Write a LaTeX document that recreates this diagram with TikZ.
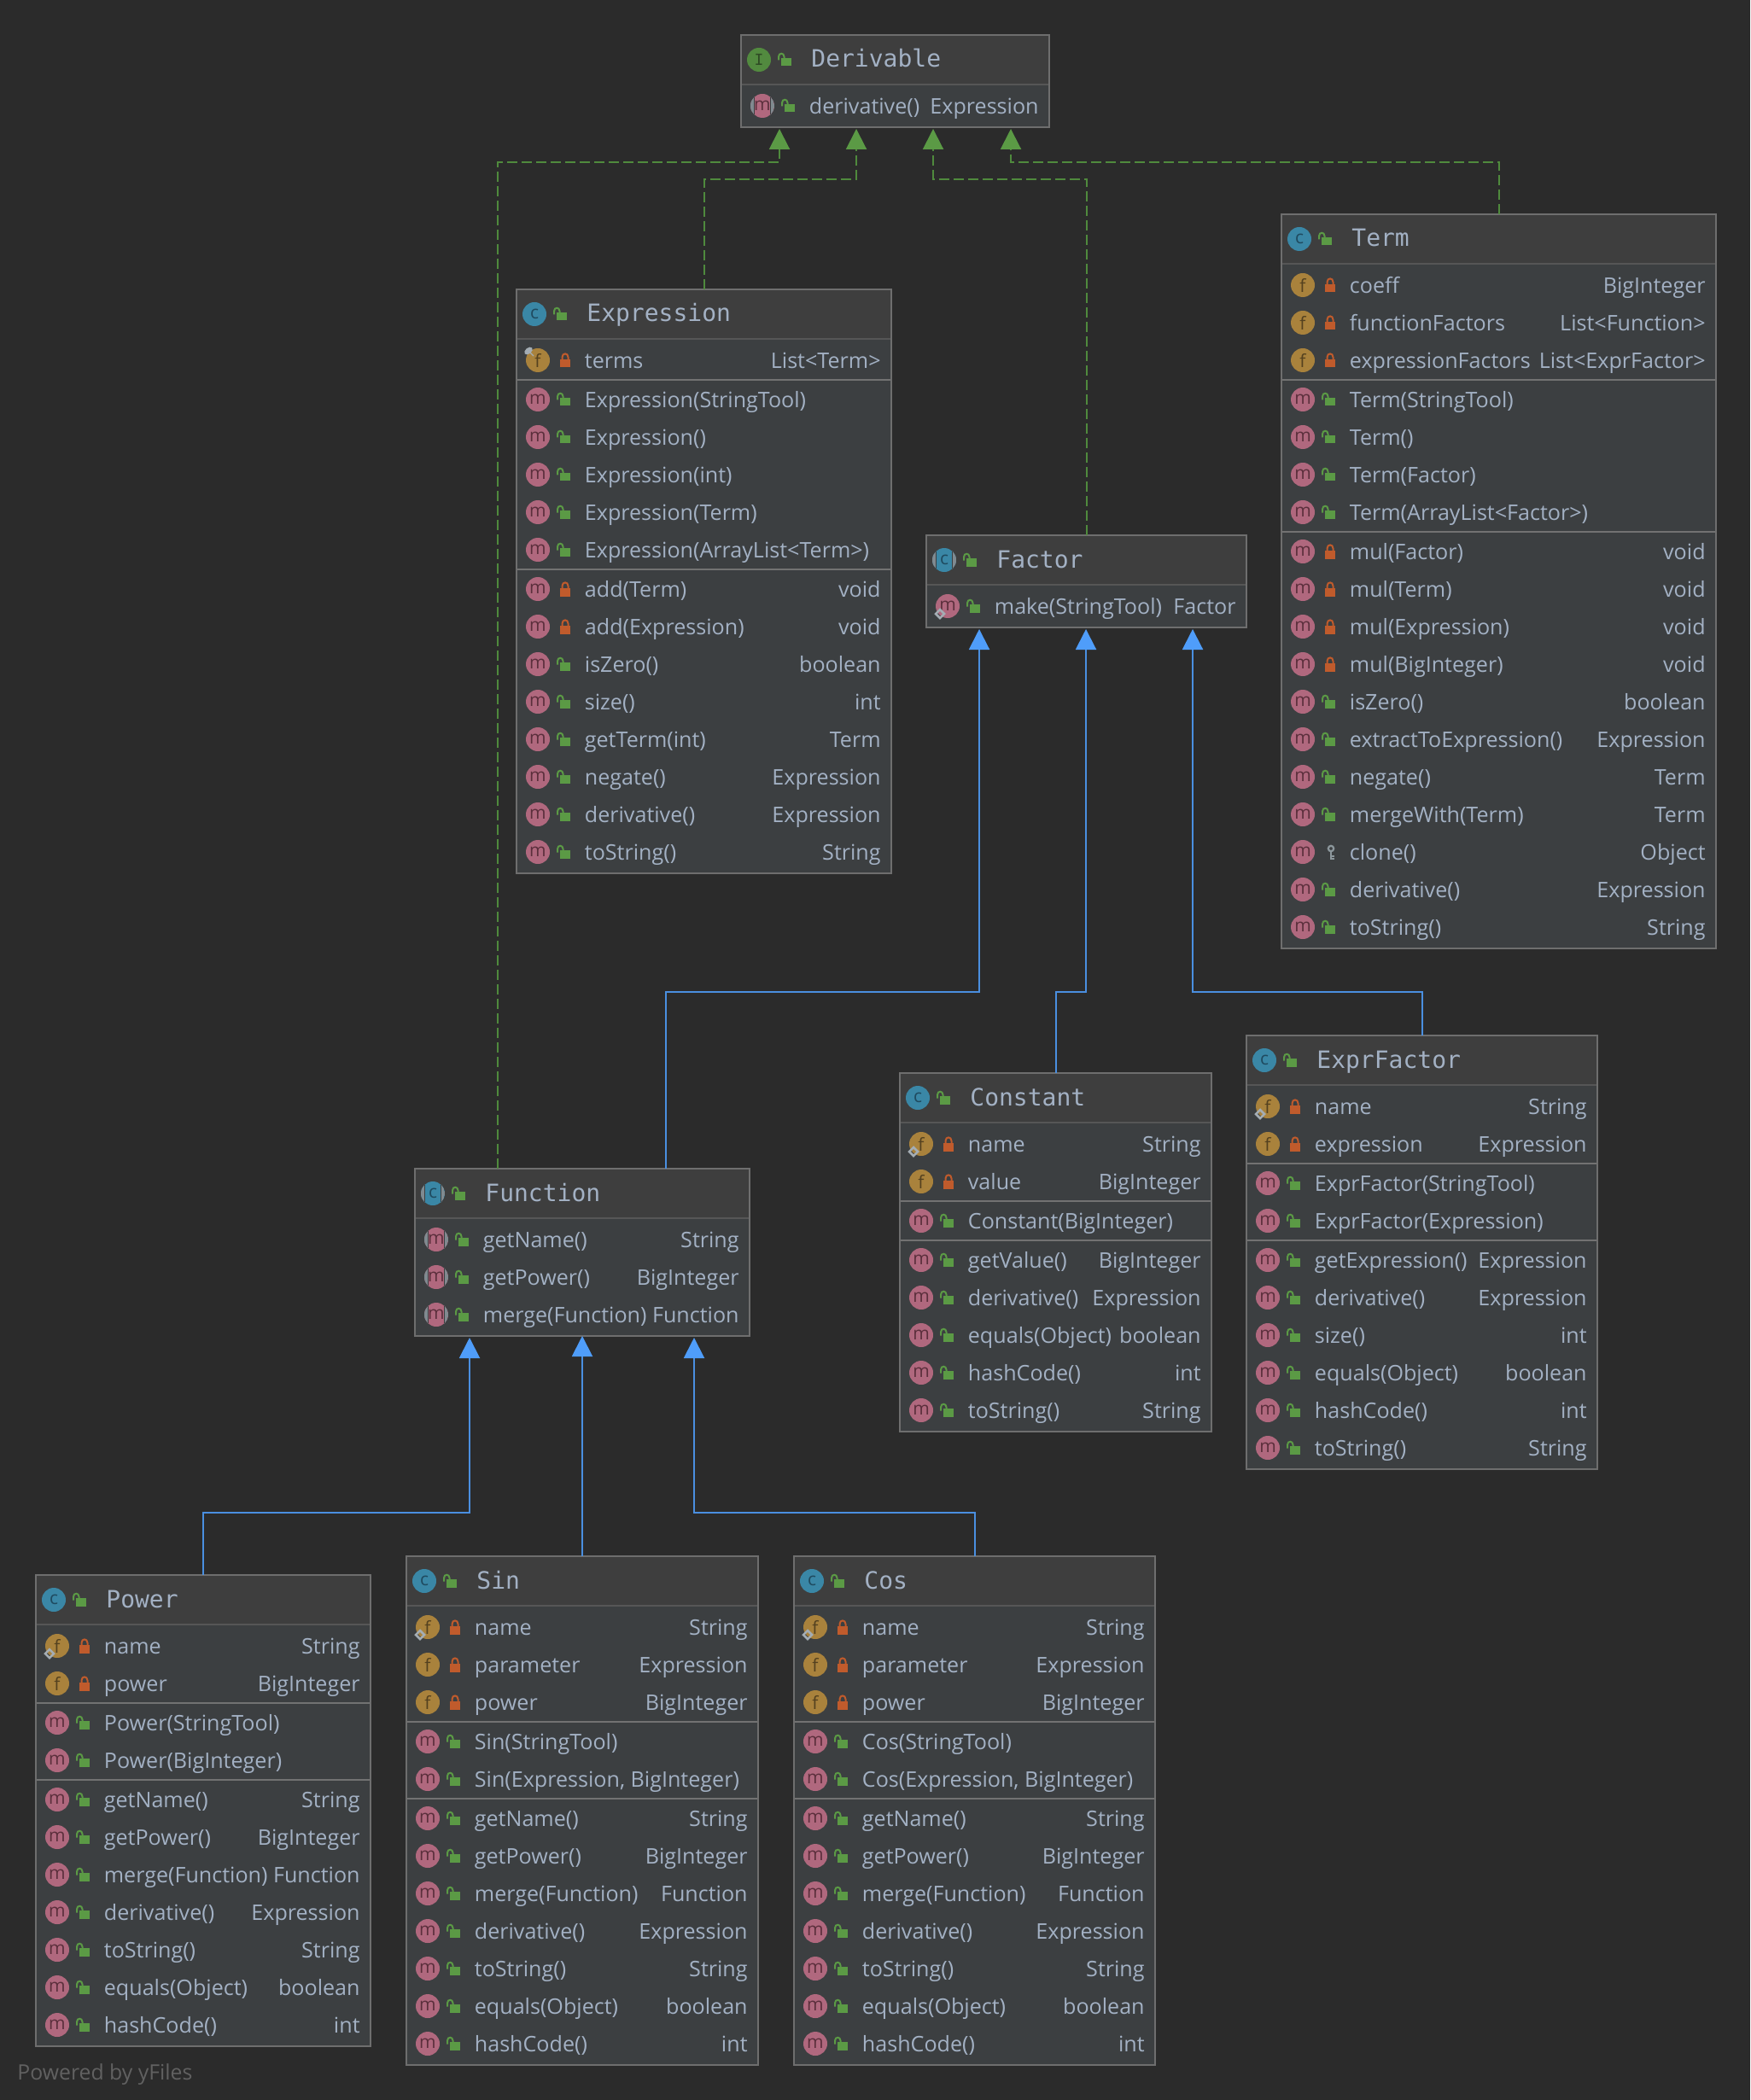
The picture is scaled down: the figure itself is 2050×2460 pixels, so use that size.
\documentclass[tikz,border=0pt]{standalone}
\usepackage{fontspec}
\setmainfont{Open Sans}[Ligatures=NoCommon]
\newfontfamily\titlefont{DejaVu Sans Mono}
\usetikzlibrary{arrows.meta,calc}
\definecolor{bgc}{HTML}{2B2B2B}
\definecolor{bodyc}{HTML}{3C3F41}
\definecolor{titlec}{HTML}{3E3E3E}
\definecolor{borderc}{HTML}{6E6E6E}
\definecolor{seponec}{HTML}{565656}
\definecolor{septwoc}{HTML}{727272}
\definecolor{txtc}{HTML}{A3B1C4}
\definecolor{greenc}{HTML}{5B9A45}
\definecolor{greenline}{HTML}{4F8A3D}
\definecolor{orangec}{HTML}{C05B2C}
\definecolor{bluec}{HTML}{4A8FE0}
\definecolor{bluetip}{HTML}{4F9DFA}
\definecolor{graymark}{HTML}{A4ADB4}
\definecolor{keyc}{HTML}{8C979C}
\definecolor{absgray}{HTML}{808A90}
\definecolor{clsc}{HTML}{3A87A6}\definecolor{clsl}{HTML}{1F4A5F}
\definecolor{fldc}{HTML}{A9823C}\definecolor{fldl}{HTML}{54411F}
\definecolor{mthc}{HTML}{B0687E}\definecolor{mthl}{HTML}{5B2F3C}
\definecolor{ifcc}{HTML}{528A3F}\definecolor{ifcl}{HTML}{2E4A24}
\definecolor{yfc}{HTML}{616161}
\tikzset{
  umlbox/.style={draw=borderc,fill=bodyc,line width=1pt,inner sep=0pt,outer sep=0pt},
  titletext/.style={text=txtc,font=\titlefont\fontsize{14}{16}\selectfont,anchor=base west,inner sep=0pt},
  lefttext/.style={text=txtc,font=\fontsize{12.55}{14}\selectfont,anchor=base west,inner sep=0pt},
  righttext/.style={text=txtc,font=\fontsize{12.55}{14}\selectfont,anchor=base east,inner sep=0pt},
  icon/.style={circle,minimum size=14pt,inner sep=0pt,font=\fontsize{10.5}{12}\selectfont},
  abstracticon/.style={path picture={
    \fill[absgray] (path picture bounding box.south west) rectangle ([xshift=-4.6pt]path picture bounding box.north);
    \fill[absgray] ([xshift=4.6pt]path picture bounding box.south) rectangle (path picture bounding box.north east);
    \draw[bodyc,line width=.5pt] ([xshift=-4.6pt]path picture bounding box.south) -- ([xshift=-4.6pt]path picture bounding box.north);
    \draw[bodyc,line width=.5pt] ([xshift=4.6pt]path picture bounding box.south) -- ([xshift=4.6pt]path picture bounding box.north);
  }},
  realizes/.style={draw=greenline,line width=1pt,dash pattern=on 6pt off 2.5pt,
    -{Triangle[length=12pt,width=12pt,fill=greenc,color=greenc,sep=0pt]}},
  extends/.style={draw=bluec,line width=1pt,
    -{Triangle[length=12pt,width=12pt,fill=bluetip,color=bluetip]}},
}
\newcount\rowy
\newcount\rowno
\def\curname{}\def\boxL{0}\def\boxR{0}
\newcommand{\visU}[2]{%
  \fill[greenc] (#1-4.5,#2-2) rectangle (#1+8,#2+7.5);
  \draw[greenc,line width=1pt] (#1-7,#2+0.5) -- (#1-7,#2-3.5) .. controls (#1-7,#2-8.5) and (#1-0.5,#2-8.5) .. (#1-0.5,#2-3.5) -- (#1-0.5,#2-2);}
\newcommand{\visP}[2]{%
  \fill[orangec] (#1-6,#2-1) rectangle (#1+6,#2+8.5);
  \draw[orangec,line width=1pt] (#1-3.5,#2) -- (#1-3.5,#2-3.5) .. controls (#1-3.5,#2-9) and (#1+3.5,#2-9) .. (#1+3.5,#2-3.5) -- (#1+3.5,#2);}
\newcommand{\visK}[2]{%
  \draw[keyc,line width=1.1pt] (#1,#2-4) circle [radius=3.2];
  \draw[keyc,line width=1.3pt] (#1,#2-1) -- (#1,#2+9);
  \draw[keyc,line width=1pt] (#1,#2+4.5) -- (#1+4,#2+4.5) (#1,#2+8) -- (#1+4,#2+8);}
\newcommand{\markN}[2]{}
\newcommand{\markD}[2]{\draw[graymark,line width=1.25pt] (#1-14,#2+9) -- (#1-9,#2+4) -- (#1-4,#2+9) -- (#1-9,#2+14) -- cycle;}
\newcommand{\markT}[2]{%
  \fill[graymark,shift={(#1-11,#2-11)},rotate=40] (0,0) ellipse [x radius=5.5,y radius=3.5];
  \draw[graymark,line width=.6pt] (#1-11,#2-11) -- (#1-5,#2-5);}
\newcommand{\iconm}[2]{\node[icon,fill=mthc,text=mthl] (\curname-icon-\the\rowno) at (#1,#2) {m};}
\newcommand{\iconf}[2]{\node[icon,fill=fldc,text=fldl] (\curname-icon-\the\rowno) at (#1,#2) {f};}
\newcommand{\iconM}[2]{\node[icon,fill=mthc,text=mthl,abstracticon] (\curname-icon-\the\rowno) at (#1,#2) {m};}
\newcommand{\umlclass}[8]{%
  \def\curname{#1}\def\boxL{#2}\def\boxR{#3}%
  \rowy=\numexpr#4+83\relax \rowno=0
  \node[umlbox,minimum width={(#3-#2)*0.5pt},minimum height={(#5-#4)*0.5pt}] (#1) at ({(#2+#3)/2},{(#4+#5)/2}) {};
  \fill[titlec] (#2+1,#4+1) rectangle (#3-1,#4+58);
  \draw[seponec,line width=1pt] (#2+1,#4+58) -- (#3-1,#4+58);
  \csname class#7\endcsname{#1-icon}{#2+21}{#4+29}{#6}
  \visU{#2+51}{#4+29}
  \node[titletext] (#1-title) at (#2+82,#4+38) {#8};
}
\newcommand{\classc}[4]{\node[icon,fill=clsc,text=clsl,#4] (#1) at (#2,#3) {c};}
\newcommand{\classI}[4]{\node[icon,fill=ifcc,text=ifcl,font=\titlefont\fontsize{9}{10}\selectfont,#4] (#1) at (#2,#3) {I};}
\newcommand{\urow}[5]{%
  \advance\rowno by 1
  \csname icon#1\endcsname{\boxL+25}{\the\rowy}
  \csname mark#3\endcsname{\boxL+25}{\the\rowy}
  \ifx#2P\visP{\boxL+57}{\the\rowy}\else\ifx#2K\visK{\boxL+58}{\the\rowy}\else\visU{\boxL+55}{\the\rowy}\fi\fi
  \node[lefttext] (\curname-l-\the\rowno) at (\boxL+79.5,\the\rowy+9.5) {#4};
  \node[righttext] (\curname-r-\the\rowno) at (\boxR-12,\the\rowy+9.5) {#5};
  \advance\rowy by 44
}
\newcommand{\usec}{%
  \draw[septwoc,line width=1pt] (\boxL+1,\the\rowy-21) -- (\boxR-1,\the\rowy-21);
  \advance\rowy by 2
}
\newcommand{\pubm}[2]{\urow{m}{U}{N}{#1}{#2}}
\newcommand{\prim}[2]{\urow{m}{P}{N}{#1}{#2}}
\newcommand{\prif}[2]{\urow{f}{P}{N}{#1}{#2}}
\newcommand{\absm}[2]{\urow{M}{U}{N}{#1}{#2}}
\begin{document}
\begin{tikzpicture}[x=0.5pt,y=-0.5pt]
\useasboundingbox (0,0) rectangle (2050,2460);
\fill[bgc] (0,0) rectangle (2050,2460);
\begin{scope}[xshift=0.5pt]

\umlclass{Derivable}{867}{1228}{41}{149}{}{I}{Derivable}
\absm{derivative()}{Expression}

\umlclass{Expression}{604}{1043}{339}{1023}{}{c}{Expression}
\urow{f}{P}{T}{terms}{List<Term>}
\usec
\pubm{Expression(StringTool)}{}
\pubm{Expression()}{}
\pubm{Expression(int)}{}
\pubm{Expression(Term)}{}
\pubm{Expression(ArrayList<Term>)}{}
\usec
\prim{add(Term)}{void}
\prim{add(Expression)}{void}
\pubm{isZero()}{boolean}
\pubm{size()}{int}
\pubm{getTerm(int)}{Term}
\pubm{negate()}{Expression}
\pubm{derivative()}{Expression}
\pubm{toString()}{String}

\umlclass{Term}{1500}{2009}{251}{1111}{}{c}{Term}
\prif{coeff}{BigInteger}
\prif{functionFactors}{List<Function>}
\prif{expressionFactors}{List<ExprFactor>}
\usec
\pubm{Term(StringTool)}{}
\pubm{Term()}{}
\pubm{Term(Factor)}{}
\pubm{Term(ArrayList<Factor>)}{}
\usec
\prim{mul(Factor)}{void}
\prim{mul(Term)}{void}
\prim{mul(Expression)}{void}
\prim{mul(BigInteger)}{void}
\pubm{isZero()}{boolean}
\pubm{extractToExpression()}{Expression}
\pubm{negate()}{Term}
\pubm{mergeWith(Term)}{Term}
\urow{m}{K}{N}{clone()}{Object}
\pubm{derivative()}{Expression}
\pubm{toString()}{String}

\umlclass{Factor}{1084}{1459}{627}{735}{abstracticon}{c}{Factor}
\urow{m}{U}{D}{make(StringTool)}{Factor}

\umlclass{Function}{485}{877}{1369}{1565}{abstracticon}{c}{Function}
\absm{getName()}{String}
\absm{getPower()}{BigInteger}
\absm{merge(Function)}{Function}

\umlclass{Constant}{1053}{1418}{1257}{1677}{}{c}{Constant}
\urow{f}{P}{D}{name}{String}
\prif{value}{BigInteger}
\usec
\pubm{Constant(BigInteger)}{}
\usec
\pubm{getValue()}{BigInteger}
\pubm{derivative()}{Expression}
\pubm{equals(Object)}{boolean}
\pubm{hashCode()}{int}
\pubm{toString()}{String}

\umlclass{ExprFactor}{1459}{1870}{1213}{1721}{}{c}{ExprFactor}
\urow{f}{P}{D}{name}{String}
\prif{expression}{Expression}
\usec
\pubm{ExprFactor(StringTool)}{}
\pubm{ExprFactor(Expression)}{}
\usec
\pubm{getExpression()}{Expression}
\pubm{derivative()}{Expression}
\pubm{size()}{int}
\pubm{equals(Object)}{boolean}
\pubm{hashCode()}{int}
\pubm{toString()}{String}

\umlclass{Power}{41}{433}{1845}{2397}{}{c}{Power}
\urow{f}{P}{D}{name}{String}
\prif{power}{BigInteger}
\usec
\pubm{Power(StringTool)}{}
\pubm{Power(BigInteger)}{}
\usec
\pubm{getName()}{String}
\pubm{getPower()}{BigInteger}
\pubm{merge(Function)}{Function}
\pubm{derivative()}{Expression}
\pubm{toString()}{String}
\pubm{equals(Object)}{boolean}
\pubm{hashCode()}{int}

\umlclass{Sin}{475}{887}{1823}{2419}{}{c}{Sin}
\urow{f}{P}{D}{name}{String}
\prif{parameter}{Expression}
\prif{power}{BigInteger}
\usec
\pubm{Sin(StringTool)}{}
\pubm{Sin(Expression, BigInteger)}{}
\usec
\pubm{getName()}{String}
\pubm{getPower()}{BigInteger}
\pubm{merge(Function)}{Function}
\pubm{derivative()}{Expression}
\pubm{toString()}{String}
\pubm{equals(Object)}{boolean}
\pubm{hashCode()}{int}

\umlclass{Cos}{929}{1352}{1823}{2419}{}{c}{Cos}
\urow{f}{P}{D}{name}{String}
\prif{parameter}{Expression}
\prif{power}{BigInteger}
\usec
\pubm{Cos(StringTool)}{}
\pubm{Cos(Expression, BigInteger)}{}
\usec
\pubm{getName()}{String}
\pubm{getPower()}{BigInteger}
\pubm{merge(Function)}{Function}
\pubm{derivative()}{Expression}
\pubm{toString()}{String}
\pubm{equals(Object)}{boolean}
\pubm{hashCode()}{int}

\coordinate (b1) at (912,190);
\coordinate (b2) at (1002,210);
\coordinate (b3) at (1092,210);
\coordinate (b4) at (1183,190);
\coordinate (b5) at (1146,1162);
\coordinate (b6) at (1271,1162);
\coordinate (b7) at (1396,1162);
\coordinate (b8) at (549,1772);
\coordinate (b9) at (812,1772);

\draw[realizes] ($(Function.north west)+(97,0)$) |- (b1) -- ($(Derivable.south west)+(45,2)$);
\draw[realizes] (Expression.north) |- (b2) -- ($(Derivable.south west)+(135,2)$);
\draw[realizes] (Factor.north) |- (b3) -- ($(Derivable.south west)+(225,2)$);
\draw[realizes] (Term.north) |- (b4) -- ($(Derivable.south west)+(316,2)$);
\draw[extends] ($(Function.north west)+(294,0)$) |- (b5) -- ($(Factor.south west)+(62,2)$);
\draw[extends] (Constant.north) |- (b6) -- ($(Factor.south west)+(187,2)$);
\draw[extends] (ExprFactor.north) |- (b7) -- ($(Factor.south west)+(312,2)$);
\draw[extends] (Power.north) |- (b8) -- ($(Function.south west)+(64,2)$);
\draw[extends] (Sin.north) -- (Function.south);
\draw[extends] (Cos.north) |- (b9) -- ($(Function.south west)+(327,2)$);
\end{scope}

\node[anchor=base west,inner sep=0pt,text=yfc,font=\fontsize{12.4}{14}\selectfont] (yfiles) at (20,2436) {Powered by yFiles};
\end{tikzpicture}
\end{document}
